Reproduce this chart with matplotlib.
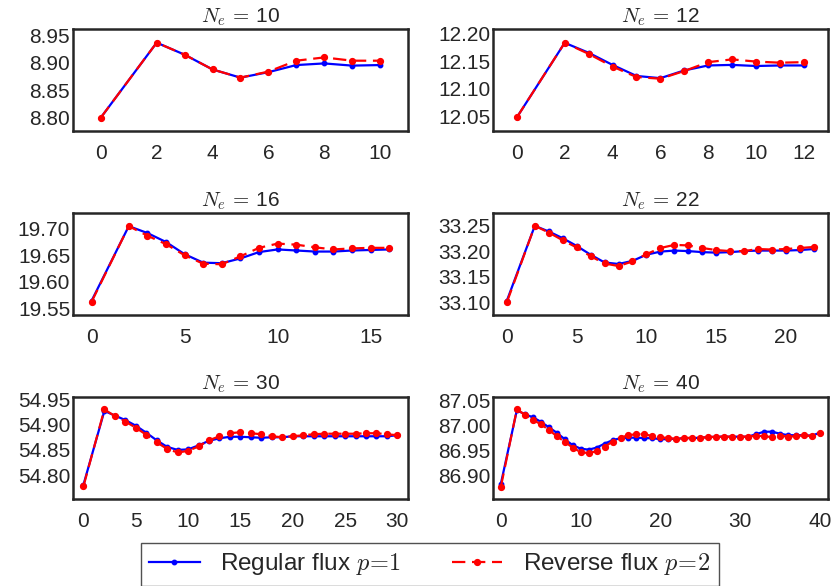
import matplotlib
matplotlib.use("Agg")
import matplotlib.pyplot as plt
import numpy as np

plt.rcParams["font.family"] = ["Liberation Sans", "DejaVu Sans"]
plt.rcParams["mathtext.fontset"] = "cm"

TEXT = "#262626"

sizes = [10, 12, 16, 22, 30, 40]

regular_10 = [8.800, 8.937, 8.915, 8.888, 8.873, 8.883, 8.896, 8.899, 8.895, 8.896]
reverse_10 = [8.800, 8.937, 8.915, 8.888, 8.873, 8.884, 8.904, 8.910, 8.904, 8.904]

regular_12 = [12.048, 12.183, 12.165, 12.143, 12.123, 12.119, 12.133, 12.142, 12.143,
              12.141, 12.142, 12.142]
reverse_12 = [12.048, 12.183, 12.163, 12.140, 12.121, 12.118, 12.132, 12.148, 12.153,
              12.149, 12.147, 12.148]

regular_16 = [19.564, 19.705, 19.692, 19.675, 19.652, 19.636, 19.635, 19.644, 19.656,
              19.661, 19.659, 19.657, 19.657, 19.659, 19.660, 19.661]
reverse_16 = [19.562, 19.705, 19.687, 19.671, 19.650, 19.634, 19.633, 19.648, 19.664,
              19.672, 19.670, 19.665, 19.661, 19.663, 19.664, 19.664]

regular_22 = [33.104, 33.249, 33.238, 33.225, 33.210, 33.193, 33.178, 33.175, 33.181,
              33.193, 33.199, 33.201, 33.200, 33.198, 33.197, 33.198, 33.200, 33.201,
              33.201, 33.201, 33.202, 33.204]
reverse_22 = [33.101, 33.249, 33.236, 33.221, 33.207, 33.190, 33.176, 33.171, 33.180,
              33.194, 33.206, 33.212, 33.211, 33.206, 33.202, 33.200, 33.200, 33.204,
              33.203, 33.204, 33.206, 33.208]

regular_30 = [54.781, 54.927, 54.918, 54.909, 54.898, 54.884, 54.869, 54.856, 54.850,
              54.851, 54.859, 54.868, 54.873, 54.876, 54.876, 54.875, 54.874, 54.875,
              54.875, 54.877, 54.877, 54.877, 54.877, 54.877, 54.877, 54.877, 54.877,
              54.877, 54.877, 54.879]
reverse_30 = [54.778, 54.930, 54.917, 54.906, 54.894, 54.880, 54.865, 54.852, 54.845,
              54.848, 54.857, 54.869, 54.877, 54.883, 54.885, 54.883, 54.881, 54.877,
              54.875, 54.877, 54.879, 54.881, 54.882, 54.882, 54.882, 54.882, 54.883,
              54.883, 54.881, 54.879]

regular_40 = [86.883, 87.030, 87.022, 87.016, 87.007, 86.996, 86.985, 86.972, 86.960,
              86.953, 86.951, 86.955, 86.963, 86.970, 86.974, 86.975, 86.975, 86.974,
              86.974, 86.972, 86.972, 86.973, 86.974, 86.974, 86.975, 86.976, 86.977,
              86.977, 86.977, 86.977, 86.977, 86.982, 86.987, 86.987, 86.983, 86.980,
              86.980, 86.980, 86.979, 86.985]
reverse_40 = [86.877, 87.032, 87.021, 87.011, 87.002, 86.991, 86.978, 86.967, 86.955,
              86.946, 86.944, 86.948, 86.957, 86.967, 86.975, 86.980, 86.982, 86.982,
              86.978, 86.976, 86.974, 86.973, 86.974, 86.975, 86.975, 86.976, 86.977,
              86.977, 86.977, 86.977, 86.977, 86.979, 86.978, 86.976, 86.979, 86.977,
              86.978, 86.980, 86.978, 86.985]

regular = [regular_10, regular_12, regular_16, regular_22, regular_30, regular_40]
reverse = [reverse_10, reverse_12, reverse_16, reverse_22, reverse_30, reverse_40]
xtick_steps = [2, 2, 5, 5, 5, 10]

fig, axes = plt.subplots(3, 2, figsize=(8.32, 5.86), dpi=100)
fig.subplots_adjust(left=0.0877, right=0.995, top=0.9505, bottom=0.1485,
                    wspace=0.254, hspace=0.80)

for ax, n, reg, rev, step in zip(axes.flat, sizes, regular, reverse, xtick_steps):
    steps = [0] + list(range(2, n + 1))
    ax.plot(steps, reg, "-", color="blue", lw=1.6, marker="o", ms=3.2,
            label=r"Regular flux $p\!=\!1$")
    ax.plot(steps, rev, "--", color="red", lw=1.6, marker="o", ms=4.2,
            dashes=(6, 3), label=r"Reverse flux $p\!=\!2$")
    lo = min(min(reg), min(rev))
    hi = max(max(reg), max(rev))
    ax.set_ylim(lo - 0.025, hi + 0.025)
    ax.set_xlim(-1, n + 1)
    ax.set_xticks(np.arange(0, n + 1, step))
    ax.yaxis.set_major_locator(matplotlib.ticker.MultipleLocator(0.05))
    ax.yaxis.set_major_formatter(matplotlib.ticker.FormatStrFormatter("%.2f"))
    ax.tick_params(axis="both", length=0, labelsize=15, labelcolor=TEXT)
    ax.tick_params(axis="x", pad=9.5)
    ax.tick_params(axis="y", pad=2)
    for sp in ax.spines.values():
        sp.set_color(TEXT)
        sp.set_linewidth(1.8)
    ax.set_title(r"$N_e\,=\,$" + str(n), fontsize=15, color=TEXT, pad=5)

handles, labels = axes[0, 0].get_legend_handles_labels()
leg = fig.legend(handles, labels, loc="upper left", ncol=2,
                 bbox_to_anchor=(140.7 / 832, 1 - 542.7 / 586), fontsize=17.5,
                 frameon=True, fancybox=False, borderaxespad=0,
                 columnspacing=2.1, handlelength=2.07, handletextpad=0.85,
                 borderpad=0.35)
leg.get_frame().set_edgecolor(TEXT)
leg.get_frame().set_linewidth(1.0)
for t in leg.get_texts():
    t.set_color(TEXT)

fig.savefig("out.png", dpi=100)
